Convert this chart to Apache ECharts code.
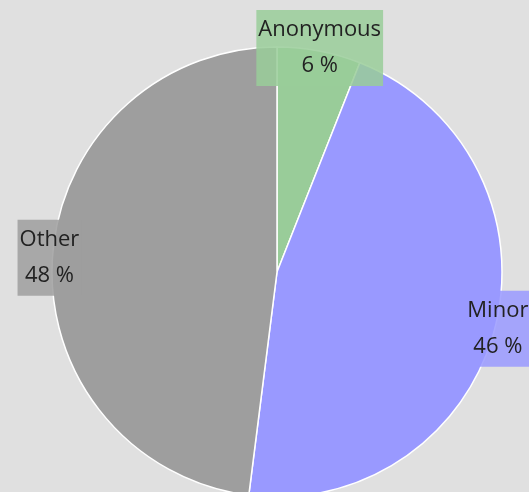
<!DOCTYPE html>
<html>
<head>
<meta charset="utf-8">
<script src="https://cdn.jsdelivr.net/npm/echarts@6/dist/echarts.min.js"></script>
<style>
	html, body { margin: 0; padding: 0; background: #e0e0e0; }
	#chart { width: 529px; height: 492px; }
</style>
</head>
<body>
<div id="chart"></div>
<script>
	var categories = ['Anonymous', 'Minor', 'Other'];
	var values = [6, 46, 48];
	var colors = ['#99cc99', '#9999ff', '#9e9e9e'];
	var labelColors = ['rgba(153,204,153,0.85)', 'rgba(153,153,255,0.85)', 'rgba(158,158,158,0.85)'];

	var pieData = categories.map(function(name, i) {
		return { name: name, value: values[i], itemStyle: { color: colors[i] } };
	});

	// labels sit on the rim, so a thin ring series carries them
	var labelData = categories.map(function(name, i) {
		return {
			name: name,
			value: values[i],
			label: { backgroundColor: labelColors[i] }
		};
	});

	var myChart = echarts.init(document.getElementById('chart'));
	myChart.setOption({
		backgroundColor: '#e0e0e0',
		animation: false,
		series: [{
			type: 'pie',
			center: [277, 272],
			radius: 225,
			startAngle: 90,
			clockwise: true,
			data: pieData,
			itemStyle: {
				borderColor: '#ffffff',
				borderWidth: 1.5
			},
			label: { show: false },
			labelLine: { show: false }
		}, {
			type: 'pie',
			center: [277, 272],
			radius: [224, 226],
			startAngle: 90,
			clockwise: true,
			silent: true,
			data: labelData,
			itemStyle: { color: 'rgba(0,0,0,0)' },
			label: {
				show: true,
				position: 'inside',
				formatter: '{b}\n{d} %',
				fontFamily: 'Open Sans',
				fontSize: 22,
				lineHeight: 36,
				color: '#222222',
				padding: [2, 2, 2, 2]
			},
			labelLine: { show: false }
		}]
	});
</script>
</body>
</html>
